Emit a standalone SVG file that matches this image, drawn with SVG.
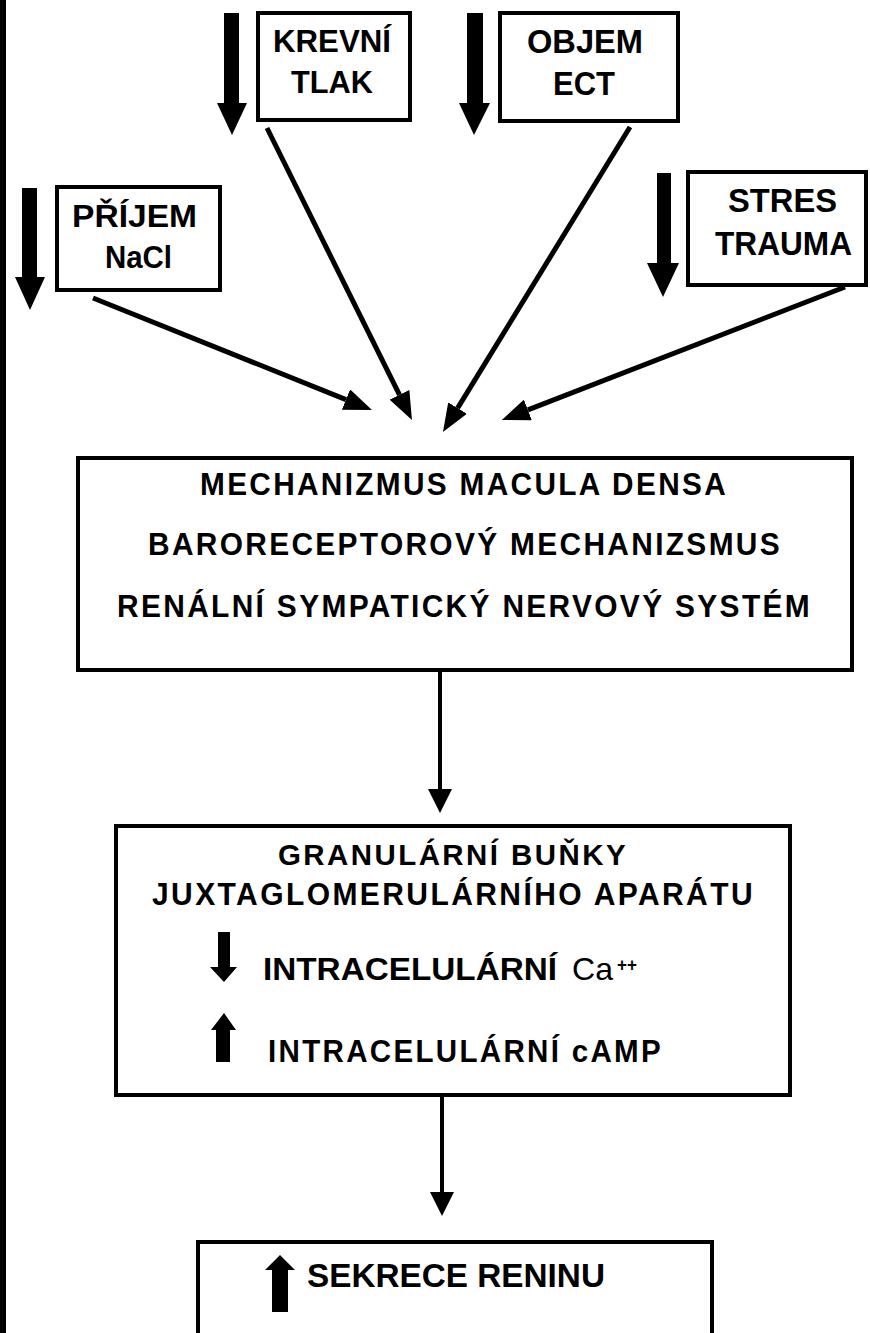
<svg xmlns="http://www.w3.org/2000/svg" width="870" height="1333" viewBox="0 0 870 1333">
  <defs>
    <style>
      .box { fill: #fff; stroke: #000; stroke-width: 4; }
      .t { font-family: "Liberation Sans", Arial, sans-serif; font-weight: bold; fill: #000; }
      .n { font-family: "Liberation Sans", Arial, sans-serif; font-weight: bold; fill: #000; letter-spacing: 2.5px; }
      .r { font-family: "Liberation Sans", Arial, sans-serif; font-weight: normal; fill: #000; }
      .conn { stroke: #000; stroke-width: 5; fill: none; }
      .vconn { stroke: #000; stroke-width: 4; fill: none; }
      .blk { fill: #000; }
    </style>
    <marker id="head" viewBox="0 -11 28 22" refX="0" refY="0" markerWidth="28" markerHeight="22" markerUnits="userSpaceOnUse" orient="auto">
      <path d="M0,-11 L28,0 L0,11 z" fill="#000"/>
    </marker>
    <marker id="vhead" viewBox="0 -12 24 24" refX="0" refY="0" markerWidth="24" markerHeight="24" markerUnits="userSpaceOnUse" orient="auto">
      <path d="M0,-12 L24,0 L0,12 z" fill="#000"/>
    </marker>
  </defs>

  <rect x="0" y="0" width="870" height="1333" fill="#fff"/>
  <rect x="0" y="0" width="6" height="1333" fill="#000"/>

  <!-- decrease indicators next to the input boxes -->
  <g id="indicators">
    <polygon class="blk" points="224,13 239,13 239,103 247,103 232,135 217,103 224,103"/>
    <polygon class="blk" points="467,13 483,13 483,103 490,103 474,135 459,103 467,103"/>
    <polygon class="blk" points="22,188 37,188 37,277 45,277 30,310 15,277 22,277"/>
    <polygon class="blk" points="657,173 671,173 671,263 679,263 663,297 647,263 657,263"/>
  </g>

  <g id="krevni-tlak">
    <rect class="box" x="258" y="13" width="152" height="107"/>
    <text class="t" x="273" y="52" font-size="32" textLength="118" lengthAdjust="spacingAndGlyphs">KREVNÍ</text>
    <text class="t" x="291" y="93" font-size="32" textLength="82" lengthAdjust="spacingAndGlyphs">TLAK</text>
  </g>

  <g id="objem-ect">
    <rect class="box" x="500" y="13" width="178" height="108"/>
    <text class="t" x="527" y="53" font-size="33" textLength="116" lengthAdjust="spacingAndGlyphs">OBJEM</text>
    <text class="t" x="553" y="95" font-size="33" textLength="62" lengthAdjust="spacingAndGlyphs">ECT</text>
  </g>

  <g id="prijem-nacl">
    <rect class="box" x="57" y="187" width="163" height="103"/>
    <text class="t" x="72" y="227" font-size="32" textLength="125" lengthAdjust="spacingAndGlyphs">PŘÍJEM</text>
    <text class="t" x="105" y="268" font-size="32" textLength="67" lengthAdjust="spacingAndGlyphs">NaCl</text>
  </g>

  <g id="stres-trauma">
    <rect class="box" x="688" y="172" width="178" height="113"/>
    <text class="t" x="728" y="212" font-size="33" textLength="109" lengthAdjust="spacingAndGlyphs">STRES</text>
    <text class="t" x="715" y="255" font-size="33" textLength="137" lengthAdjust="spacingAndGlyphs">TRAUMA</text>
  </g>

  <g id="mechanizmy">
    <rect class="box" x="78" y="458" width="774" height="212"/>
    <text class="n" x="200" y="495" font-size="32" textLength="528" lengthAdjust="spacingAndGlyphs">MECHANIZMUS MACULA DENSA</text>
    <text class="n" x="148" y="555" font-size="32" textLength="634" lengthAdjust="spacingAndGlyphs">BARORECEPTOROVÝ MECHANIZSMUS</text>
    <text class="n" x="117" y="617" font-size="32" textLength="695" lengthAdjust="spacingAndGlyphs">RENÁLNÍ SYMPATICKÝ NERVOVÝ SYSTÉM</text>
  </g>

  <g id="granularni-bunky">
    <rect class="box" x="116" y="826" width="674" height="269"/>
    <text class="n" x="278" y="865" font-size="30" textLength="350" lengthAdjust="spacingAndGlyphs">GRANULÁRNÍ BUŇKY</text>
    <text class="n" x="152" y="905" font-size="31" textLength="603" lengthAdjust="spacingAndGlyphs">JUXTAGLOMERULÁRNÍHO APARÁTU</text>
    <polygon class="blk" points="218,932 230,932 230,967 237,967 224,982 210,967 218,967"/>
    <text class="t" x="263" y="980" font-size="32" textLength="294" lengthAdjust="spacingAndGlyphs">INTRACELULÁRNÍ</text>
    <text class="r" x="572" y="980" font-size="32" textLength="41" lengthAdjust="spacingAndGlyphs">Ca</text>
    <text class="t" x="617" y="971" font-size="18" textLength="20" lengthAdjust="spacingAndGlyphs">++</text>
    <polygon class="blk" points="224,1013 236,1030 230,1030 230,1062 216,1062 216,1030 211,1030"/>
    <text class="n" x="268" y="1062" font-size="32" textLength="395" lengthAdjust="spacingAndGlyphs">INTRACELULÁRNÍ cAMP</text>
  </g>

  <g id="sekrece-reninu">
    <rect class="box" x="198" y="1242" width="514" height="110"/>
    <polygon class="blk" points="280,1255 295,1270 288,1270 288,1312 272,1312 272,1270 265,1270"/>
    <text class="t" x="307" y="1287" font-size="34" textLength="298" lengthAdjust="spacingAndGlyphs">SEKRECE RENINU</text>
  </g>

  <g id="connectors">
    <line class="conn" x1="93" y1="298" x2="346" y2="399.6" stroke-width="6" marker-end="url(#head)"/>
    <line class="conn" x1="267" y1="128" x2="399.5" y2="394.9" marker-end="url(#head)"/>
    <line class="conn" x1="630" y1="127" x2="457.6" y2="408.1" marker-end="url(#head)"/>
    <line class="conn" x1="845" y1="287" x2="527.9" y2="409.9" stroke-width="6" marker-end="url(#head)"/>
    <line class="vconn" x1="440" y1="672" x2="440" y2="789" marker-end="url(#vhead)"/>
    <line class="vconn" x1="442" y1="1097" x2="442" y2="1192" marker-end="url(#vhead)"/>
  </g>
</svg>
